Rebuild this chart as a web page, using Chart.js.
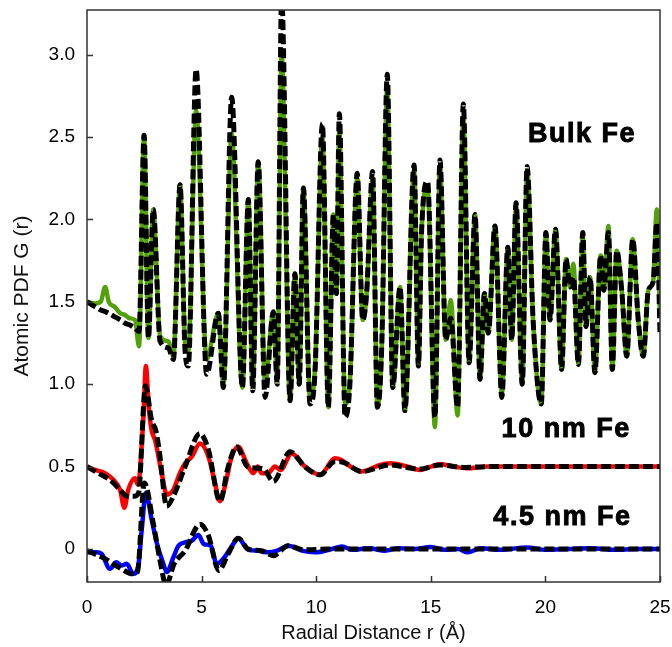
<!DOCTYPE html>
<html>
<head>
<meta charset="utf-8">
<script src="https://cdn.jsdelivr.net/npm/chart.js@4.4.1/dist/chart.umd.min.js"></script>
<style>
  body { margin: 0; background: #fff; }
  #wrap { width: 672px; height: 647px; }
</style>
</head>
<body>
<div id="wrap"><canvas id="pdfChart"></canvas></div>
<script>
// Bulk Fe: experiment (green) and fit (black dashed)
const bulkR   = [0, 0.35, 0.6, 0.79, 0.95, 1.2, 1.45, 1.66, 1.85, 2.09, 2.27, 2.49, 2.68, 2.89, 3.19, 3.55, 3.77, 4.06, 4.28, 4.42, 4.76, 5.22, 5.73, 5.95, 6.31, 6.78, 7.04, 7.23, 7.47, 7.77, 8.13, 8.3, 8.49, 8.86, 9.07, 9.26, 9.44, 9.73, 9.95, 10.27, 10.53, 10.75, 10.88, 11.01, 11.26, 11.47, 11.79, 12.03, 12.2, 12.46, 12.67, 12.86, 13.1, 13.34, 13.66, 13.87, 14.27, 14.46, 14.6, 14.86, 15.18, 15.4, 15.65, 15.87, 16.17, 16.42, 16.67, 16.93, 17.15, 17.34, 17.51, 17.8, 18.1, 18.36, 18.53, 18.72, 18.99, 19.2, 19.47, 19.82, 20.02, 20.2, 20.44, 20.71, 20.9, 21.07, 21.22, 21.44, 21.63, 21.77, 21.95, 22.16, 22.41, 22.55, 22.75, 22.92, 23.11, 23.33, 23.55, 23.81, 24.05, 24.27, 24.49, 24.7, 24.86, 25];
const bulkExp = [1.50, 1.49, 1.50, 1.59, 1.50, 1.47, 1.43, 1.42, 1.40, 1.39, 1.23, 2.51, 1.28, 2.06, 1.29, 1.26, 1.17, 2.21, 1.25, 1.20, 2.66, 1.15, 1.43, 1.00, 2.52, 0.98, 2.12, 0.98, 2.35, 1.00, 1.44, 1.02, 3.00, 0.90, 1.67, 1.00, 2.19, 0.92, 1.10, 2.50, 0.86, 2.03, 1.55, 2.55, 0.88, 1.02, 2.25, 1.39, 1.55, 2.25, 0.86, 1.23, 2.80, 0.98, 1.59, 0.84, 2.30, 1.11, 1.93, 2.20, 0.74, 2.33, 1.27, 1.51, 0.81, 2.62, 1.13, 2.03, 1.03, 1.55, 1.31, 1.96, 0.94, 1.83, 1.27, 2.08, 1.00, 2.30, 1.37, 0.88, 1.92, 1.39, 1.94, 1.09, 1.76, 1.59, 1.73, 1.12, 1.90, 1.35, 1.65, 1.07, 1.78, 1.57, 1.96, 1.09, 1.81, 1.57, 1.17, 1.88, 1.39, 1.17, 1.57, 1.62, 2.06, 1.40];
const bulkFit = [1.50, 1.47, 1.45, 1.44, 1.43, 1.41, 1.39, 1.37, 1.36, 1.34, 1.32, 2.51, 1.28, 2.06, 1.26, 1.22, 1.15, 2.21, 1.20, 1.11, 2.91, 1.06, 1.43, 0.98, 2.74, 0.98, 2.12, 0.96, 2.35, 0.92, 1.44, 1.00, 3.35, 0.90, 1.67, 1.00, 2.19, 0.88, 1.08, 2.58, 0.86, 2.03, 1.55, 2.64, 0.80, 1.00, 2.28, 1.39, 1.55, 2.29, 0.86, 1.23, 2.88, 0.98, 1.59, 0.84, 2.33, 1.11, 1.93, 2.23, 0.80, 2.36, 1.27, 1.40, 0.86, 2.70, 1.13, 2.03, 1.03, 1.55, 1.31, 1.96, 0.92, 1.83, 1.27, 2.10, 1.00, 2.32, 1.37, 0.88, 1.92, 1.39, 1.94, 1.09, 1.76, 1.59, 1.65, 1.12, 1.92, 1.35, 1.65, 1.07, 1.78, 1.57, 1.92, 1.09, 1.81, 1.57, 1.17, 1.88, 1.39, 1.17, 1.57, 1.62, 1.98, 1.31];

// 10 nm Fe: experiment (red) and fit
const nm10R   = [0, 0.35, 0.79, 1.15, 1.44, 1.63, 1.8, 2.09, 2.22, 2.46, 2.57, 2.7, 2.82, 2.97, 3.26, 3.48, 3.77, 4.05, 4.28, 4.57, 4.93, 5.3, 5.55, 5.8, 6.05, 6.31, 6.6, 6.97, 7.26, 7.45, 7.62, 7.9, 8.2, 8.45, 8.93, 9.51, 10.17, 10.82, 11.1, 11.5, 11.98, 12.78, 13.22, 14.0, 14.53, 15.4, 16.0, 16.57, 17.5, 18.5, 20, 21.5, 23, 25];
const nm10Exp = [0.50, 0.48, 0.46, 0.42, 0.36, 0.25, 0.36, 0.43, 0.39, 0.80, 1.11, 0.85, 0.72, 0.66, 0.46, 0.33, 0.36, 0.46, 0.52, 0.56, 0.64, 0.56, 0.42, 0.29, 0.40, 0.56, 0.62, 0.52, 0.46, 0.50, 0.46, 0.46, 0.50, 0.48, 0.58, 0.50, 0.45, 0.55, 0.54, 0.50, 0.47, 0.51, 0.52, 0.50, 0.48, 0.515, 0.50, 0.49, 0.50, 0.50, 0.50, 0.50, 0.50, 0.50];
const nm10FitR = [0, 0.5, 1.0, 1.44, 1.75, 2.05, 2.25, 2.55, 2.82, 3.0, 3.15, 3.48, 3.8, 4.28, 4.93, 5.3, 5.8, 6.16, 6.53, 7.0, 7.5, 7.75, 8.13, 8.86, 9.5, 10.17, 10.8, 11.04, 12.0, 13.2, 14.5, 15.4, 16.5, 17.5, 25];
const nm10Fit  = [0.50, 0.46, 0.42, 0.36, 0.32, 0.32, 0.34, 0.99, 0.78, 0.72, 0.60, 0.26, 0.33, 0.50, 0.70, 0.60, 0.29, 0.50, 0.62, 0.50, 0.49, 0.48, 0.41, 0.59, 0.50, 0.45, 0.53, 0.53, 0.47, 0.51, 0.485, 0.51, 0.495, 0.50, 0.50];

// 4.5 nm Fe: experiment (blue) and fit
const nm45R   = [0, 0.4, 0.64, 1.0, 1.28, 1.5, 1.73, 2.02, 2.24, 2.39, 2.57, 2.82, 3.04, 3.33, 3.48, 3.77, 3.99, 4.28, 4.57, 4.86, 5.1, 5.4, 5.66, 6.0, 6.31, 6.6, 7.04, 7.47, 7.9, 8.3, 8.78, 9.37, 9.95, 10.68, 11.12, 11.6, 12.3, 13.0, 13.6, 14.3, 15.0, 15.6, 16.2, 16.6, 17.2, 18.0, 19.2, 20.0, 21.0, 22.0, 23.0, 24.0, 25];
const nm45Exp = [-0.02, -0.02, -0.03, -0.12, -0.08, -0.10, -0.09, -0.15, -0.10, 0.12, 0.34, 0.18, 0.04, -0.09, -0.14, -0.05, 0.02, 0.04, 0.05, 0.085, 0.03, 0.02, -0.09, -0.05, 0.015, 0.065, -0.005, -0.01, -0.02, -0.01, 0.02, -0.01, -0.02, 0.0, 0.015, -0.005, 0.005, -0.01, 0.005, 0.0, 0.012, -0.005, 0.0, -0.02, 0.005, -0.005, 0.01, -0.005, 0.0, 0.005, -0.005, 0.0, 0.0];
const nm45FitR = [0, 0.8, 1.37, 2.0, 2.2, 2.5, 2.9, 3.2, 3.45, 3.8, 4.28, 4.93, 5.3, 5.75, 6.16, 6.6, 7.04, 7.6, 8.13, 8.78, 9.5, 10.5, 12, 14, 17, 20, 25];
const nm45Fit  = [-0.01, -0.06, -0.11, -0.15, -0.14, 0.40, 0.15, -0.08, -0.22, -0.09, -0.01, 0.15, 0.08, -0.13, -0.03, 0.065, 0.0, -0.01, -0.04, 0.02, -0.005, 0.0, 0.0, 0.0, 0.0, 0.0, 0.0];

// tick values and curve labels
const xTicks = [0, 5, 10, 15, 20, 25];
const yTicks = [0, 0.5, 1.0, 1.5, 2.0, 2.5, 3.0];
const curveLabels = ["Bulk Fe", "10 nm Fe", "4.5 nm Fe"];
const labelR = [19.24, 18.09, 17.73];
const labelG = [2.47, 0.68, 0.146];

function pts(rs, gs) {
    return rs.map((r, i) => ({ x: r, y: gs[i] }));
}

// lower "order" is drawn on top, so fits go over the measured curves
function solid(data, color) {
    return { data: data, order: 2, borderColor: color, borderWidth: 4.5, pointRadius: 0, cubicInterpolationMode: 'monotone', fill: false };
}
function dashed(data) {
    return { data: data, order: 1, borderColor: '#000', borderWidth: 5, borderDash: [10, 4], pointRadius: 0, cubicInterpolationMode: 'monotone', fill: false };
}

// frame, inner tick marks and curve labels
const decorPlugin = {
    id: 'decor',
    afterDatasetsDraw(chart) {
        const ctx = chart.ctx;
        const a = chart.chartArea;
        const xs = chart.scales.x, ys = chart.scales.y;
        ctx.save();
        ctx.strokeStyle = '#333';
        ctx.lineWidth = 1.5;
        ctx.strokeRect(a.left, a.top, a.right - a.left, a.bottom - a.top);
        ctx.beginPath();
        yTicks.forEach(v => {
            const y = Math.round(ys.getPixelForValue(v)) + 0.5;
            ctx.moveTo(a.left, y);
            ctx.lineTo(a.left + 6, y);
        });
        xTicks.forEach(v => {
            const x = Math.round(xs.getPixelForValue(v)) + 0.5;
            ctx.moveTo(x, a.bottom);
            ctx.lineTo(x, a.bottom - 6);
        });
        ctx.stroke();

        ctx.fillStyle = '#000';
        ctx.strokeStyle = '#000';
        ctx.lineWidth = 0.9;
        ctx.font = 'bold 27px Arial, "Liberation Sans", sans-serif';
        ctx.letterSpacing = '1.5px';
        ctx.textAlign = 'left';
        ctx.textBaseline = 'alphabetic';
        curveLabels.forEach((t, i) => {
            const px = xs.getPixelForValue(labelR[i]), py = ys.getPixelForValue(labelG[i]);
            ctx.fillText(t, px, py);
            ctx.strokeText(t, px, py);
        });
        ctx.restore();
    }
};

document.addEventListener("DOMContentLoaded", function () {
    const ctx = document.getElementById('pdfChart').getContext('2d');
    new Chart(ctx, {
        type: 'line',
        data: {
            datasets: [
                solid(pts(bulkR, bulkExp), '#52a00a'),
                dashed(pts(bulkR, bulkFit)),
                solid(pts(nm10R, nm10Exp), '#ff0000'),
                dashed(pts(nm10FitR, nm10Fit)),
                solid(pts(nm45R, nm45Exp), '#0000ff'),
                dashed(pts(nm45FitR, nm45Fit))
            ]
        },
        options: {
            responsive: true,
            maintainAspectRatio: false,
            devicePixelRatio: 1,
            animation: false,
            layout: { padding: { left: 10, right: 12, top: 10, bottom: 0 } },
            plugins: { legend: { display: false }, tooltip: { enabled: false } },
            scales: {
                x: {
                    type: 'linear',
                    min: 0, max: 25,
                    afterBuildTicks: s => { s.ticks = xTicks.map(v => ({ value: v })); },
                    afterFit: s => { s.height = 65; s.paddingLeft = 0; s.paddingRight = 0; },
                    grid: { display: false, drawTicks: false },
                    border: { display: false },
                    ticks: { padding: 14, color: '#000', font: { family: 'Arial, "Liberation Sans", sans-serif', size: 19 }, maxRotation: 0 },
                    title: { display: true, text: 'Radial Distance r (Å)', color: '#111', padding: { top: 0, bottom: 2 }, font: { family: 'Arial, "Liberation Sans", sans-serif', size: 20 } }
                },
                y: {
                    type: 'linear',
                    min: -0.2, max: 3.27,
                    afterBuildTicks: s => { s.ticks = yTicks.map(v => ({ value: v })); },
                    afterFit: s => { s.width = 77; s.paddingTop = 0; s.paddingBottom = 0; },
                    grid: { display: false, drawTicks: false },
                    border: { display: false },
                    ticks: {
                        padding: 12, color: '#000',
                        font: { family: 'Arial, "Liberation Sans", sans-serif', size: 19 },
                        callback: v => v === 0 ? '0' : v.toFixed(1)
                    },
                    title: { display: true, text: 'Atomic PDF G (r)', color: '#111', padding: { top: 0, bottom: 0 }, font: { family: 'Arial, "Liberation Sans", sans-serif', size: 21 } }
                }
            }
        },
        plugins: [decorPlugin]
    });
});
</script>
</body>
</html>
